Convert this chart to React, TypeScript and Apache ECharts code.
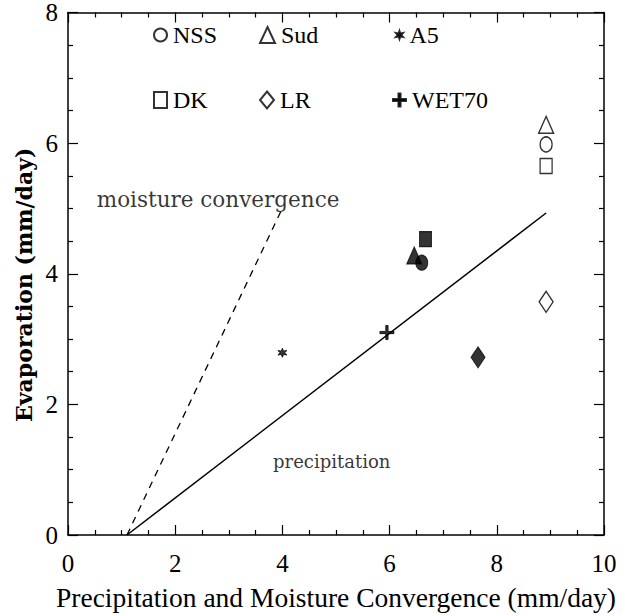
import React, { useEffect, useRef } from "react";
import * as echarts from "echarts";

// Data (mm/day). First point of each model = filled marker, second = open marker.
const NSS = [[6.6, 4.17], [8.92, 5.98]];
const SUD = [[6.46, 4.28], [8.92, 6.28]];
const DK = [[6.67, 4.53], [8.92, 5.65]];
const LR = [[7.65, 2.72], [8.92, 3.57]];
const A5 = [[4.0, 2.79]];
const WET70 = [[5.95, 3.1]];
const precipLine = [[1.1, 0], [8.92, 4.93]];
const convLine = [[1.1, 0], [3.98, 4.97]];
const annotationTexts = ["moisture convergence", "precipitation"];
const annotationAt = [[2.8, 5.14], [4.92, 1.12]];
const annotationSizes = [21.5, 18];

const COND = "'Liberation Serif', serif";

// 6-armed asterisk shape
const starPath = (() => {
  const pts: string[] = [];
  for (let k = 0; k < 12; k++) {
    const a = (Math.PI / 6) * k - Math.PI / 2;
    const r = k % 2 === 0 ? 10 : 4.2;
    pts.push(`${(10 + r * Math.cos(a)).toFixed(2)},${(10 + r * Math.sin(a)).toFixed(2)}`);
  }
  return "path://M" + pts.join("L") + "Z";
})();
const plusPath = "path://M4.2,0H5.8V4.2H10V5.8H5.8V10H4.2V5.8H0V4.2H4.2Z";

const openStyle = { color: "#fff", borderColor: "#000", borderWidth: 1.4 };
const filled = { color: "#000", borderColor: "#000", borderWidth: 1 };

function twoPoint(pts: number[][]) {
  return pts.map((p, i) => (i === 0 ? { value: p, itemStyle: filled } : { value: p }));
}

export default function App() {
  const ref = useRef<HTMLDivElement>(null);
  useEffect(() => {
    if (!ref.current) return;
    const chart = echarts.init(ref.current, null, { renderer: "svg" });
    // [left, top, iconWidth, iconHeight]
    const legendPos: Record<string, [number, number, number, number]> = {
      NSS: [148, 18, 13, 16],
      Sud: [254, 18, 15, 16],
      A5: [390, 18, 8, 8],
      DK: [148, 83, 13, 16],
      LR: [254, 83, 14, 17],
      WET70: [387, 83, 13, 13],
    };
    const axisCommon = {
      type: "value" as const,
      axisLine: { show: true, onZero: false, lineStyle: { color: "#000", width: 1.5 } },
      axisTick: { show: true, inside: true, length: 10, lineStyle: { color: "#000", width: 1.2 } },
      minorTick: { show: true, splitNumber: 4, length: 5, lineStyle: { color: "#000", width: 1.2 } },
      splitLine: { show: false },
      minorSplitLine: { show: false },
    };
    chart.setOption({
      animation: false,
      backgroundColor: "#fff",
      grid: { left: 68, right: 29, top: 12, bottom: 81, show: false },
      legend: Object.keys(legendPos).map((name) => ({
        data: [name],
        left: legendPos[name][0],
        top: legendPos[name][1],
        itemWidth: legendPos[name][2],
        itemHeight: legendPos[name][3],
        selectedMode: false,
        textStyle: { fontFamily: COND, fontSize: 24, color: "#000", padding: [0, 0, 0, 1] },
      })),
      xAxis: [
        {
          ...axisCommon,
          min: 0,
          max: 10,
          interval: 2,
          position: "bottom",
          axisLabel: { margin: 16, fontFamily: COND, fontSize: 25, color: "#000" },
          name: "Precipitation and Moisture Convergence (mm/day)",
          nameLocation: "middle",
          nameGap: 48,
          nameTextStyle: { fontFamily: COND, fontSize: 27.5, color: "#000" },
        },
        {
          ...axisCommon,
          min: 0,
          max: 10,
          interval: 2,
          position: "top",
          axisLabel: { show: false },
        },
      ],
      yAxis: [
        {
          ...axisCommon,
          min: 0,
          max: 8,
          interval: 2,
          position: "left",
          axisLabel: { margin: 10, fontFamily: COND, fontSize: 25, color: "#000" },
          name: "Evaporation (mm/day)",
          nameLocation: "middle",
          nameGap: 32,
          nameTextStyle: {
            fontFamily: "'DejaVu Serif', serif",
            fontWeight: "bold",
            fontSize: 22,
            color: "#000",
            padding: [0, 22, 0, 0],
          },
        },
        {
          ...axisCommon,
          min: 0,
          max: 8,
          interval: 2,
          position: "right",
          axisLabel: { show: false },
        },
      ],
      series: [
        {
          type: "line",
          name: "precipLine",
          data: precipLine,
          showSymbol: false,
          lineStyle: { color: "#000", width: 1.5 },
          z: 1,
        },
        {
          type: "line",
          name: "convLine",
          data: convLine,
          showSymbol: false,
          lineStyle: { color: "#000", width: 1.3, type: [7, 6] },
          z: 1,
        },
        {
          type: "scatter",
          name: "annotations",
          data: annotationAt.map((p, i) => ({
            value: p,
            label: { formatter: annotationTexts[i], fontSize: annotationSizes[i] },
          })),
          symbolSize: 0,
          label: {
            show: true,
            position: "inside",
            fontFamily: "'DejaVu Serif', serif",
            color: "#000",
          },
          silent: true,
        },
        { type: "scatter", name: "NSS", symbol: "circle", symbolSize: [12, 15], itemStyle: openStyle, data: twoPoint(NSS), z: 3 },
        { type: "scatter", name: "Sud", symbol: "triangle", symbolSize: [15, 17], itemStyle: openStyle, data: twoPoint(SUD), z: 3 },
        { type: "scatter", name: "A5", symbol: starPath, symbolSize: 9, itemStyle: filled, data: A5, z: 3 },
        { type: "scatter", name: "DK", symbol: "rect", symbolSize: [12, 15], itemStyle: openStyle, data: twoPoint(DK), z: 3 },
        { type: "scatter", name: "LR", symbol: "diamond", symbolSize: [14, 21], itemStyle: openStyle, data: twoPoint(LR), z: 3 },
        { type: "scatter", name: "WET70", symbol: plusPath, symbolSize: 14, itemStyle: filled, data: WET70, z: 3 },
      ],
    });
    return () => chart.dispose();
  }, []);
  return <div ref={ref} style={{ width: 633, height: 616, position: "absolute", left: 0, top: 0 }} />;
}
